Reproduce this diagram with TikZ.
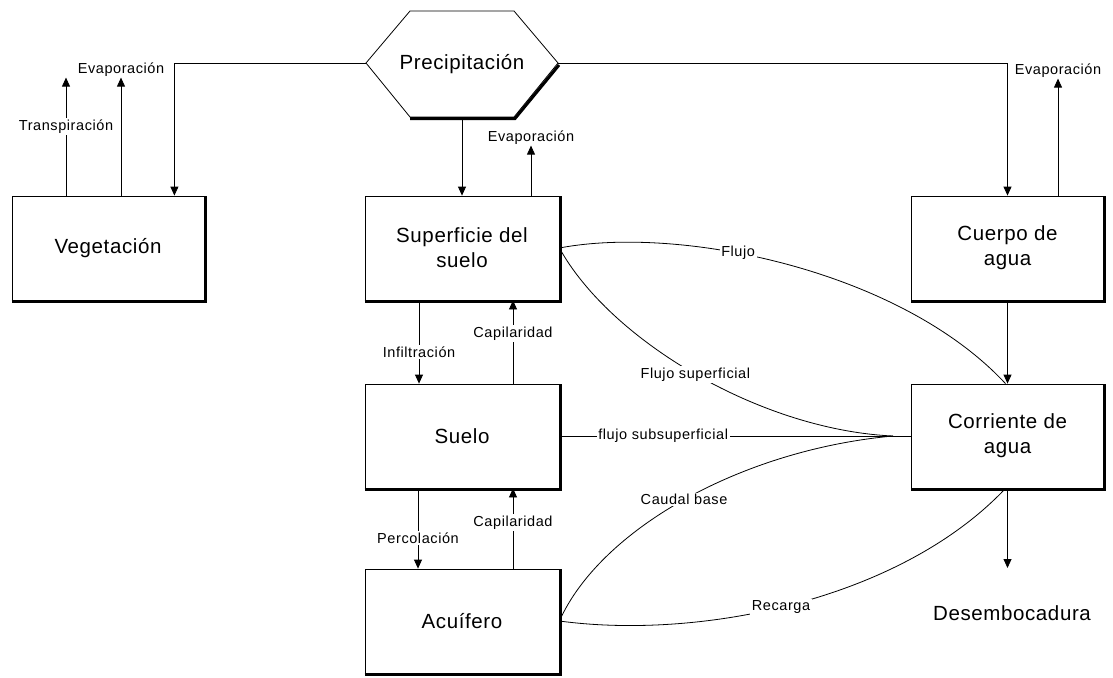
\documentclass[tikz,border=0pt]{standalone}
\usepackage{fontspec}
\setmainfont{Liberation Sans}
\usetikzlibrary{arrows.meta}
\newcommand\bxfont{\fontsize{20.5}{25}\selectfont\addfontfeatures{LetterSpace=3}}
\newcommand\lbfont{\fontsize{14.5}{17}\selectfont\addfontfeatures{LetterSpace=4}}
\begin{document}
\begin{tikzpicture}[x=1pt,y=-1pt,
  box/.style={draw, line width=0.8pt, minimum width=194pt, minimum height=104pt, align=center, font=\bxfont, inner sep=0pt},
  lbl/.style={font=\lbfont, fill=white, inner sep=1.5pt},
  toplbl/.style={font=\lbfont, anchor=south, inner sep=1pt},
  ln/.style={line width=0.8pt},
  arr/.style={ln, -{Triangle[length=9pt,width=8pt]}},
  shadowline/.style={line width=3pt},
]
\useasboundingbox (0,0) rectangle (1113,677);

% boxes
\node[box, minimum width=192pt] (veg) at (108,248) {Vegetación};
\node[box] (sup) at (462,248) {Superficie del\\suelo};
\node[box, minimum width=192pt] (cuerpo) at (1007.5,248) {Cuerpo de\\agua};
\node[box] (suelo) at (462,436) {Suelo};
\node[box, minimum width=192pt] (corr) at (1007.5,436) {Corriente de\\agua};
\node[box] (acu) at (462,621) {Acuífero};
\node[font=\bxfont, inner sep=0pt] (desemb) at (1012,613) {Desembocadura};

\foreach \b in {veg,sup,cuerpo,suelo,corr,acu}{
  \draw[shadowline] ([yshift=-1pt]\b.south west) -- ([xshift=1pt,yshift=-1pt]\b.south east) -- ([xshift=1pt]\b.north east);
}

% hexagon
\coordinate (hL) at (366,63);
\coordinate (hR) at (558,63);
\coordinate (hB) at (462,117);
\draw[ln] (hL) -- (410,11) -- (514,11) -- (hR) -- (514,117) -- (410,117) -- cycle;
\draw[shadowline] (410,118.5) -- (515,118.5) -- (559,65);
\node[font=\bxfont, inner sep=0pt] (prec) at (462,64) {Precipitación};

% precipitation connectors
\draw[arr] (hL) -| ([xshift=-30pt]veg.north east);
\draw[arr] (hR) -| (cuerpo.north);
\draw[arr] (hB) -- (sup.north);

% evaporation / transpiration
\draw[arr] ([xshift=-42pt]veg.north) -- ++(0,-118) node[lbl, pos=0.585] (ltrans) {Transpiración};
\draw[arr] ([xshift=13pt]veg.north) -- ++(0,-118) node[toplbl] (levv) {Evaporación};
\draw[arr] ([xshift=69pt]sup.north) -- ++(0,-50) node[toplbl] (levs) {Evaporación};
\draw[arr] ([xshift=50.5pt]cuerpo.north) -- ++(0,-117) node[toplbl] (levc) {Evaporación};

% vertical exchanges
\draw[arr] ([xshift=-43pt]sup.south) -- ([xshift=-43pt]suelo.north) node[lbl, pos=0.62] (linf) {Infiltración};
\draw[arr] ([xshift=51pt]suelo.north) -- ([xshift=51pt]sup.south) node[lbl, pos=0.6] (lcap1) {Capilaridad};
\draw[arr] ([xshift=-44pt]suelo.south) -- ([xshift=-44pt]acu.north) node[lbl, pos=0.62] (lperc) {Percolación};
\draw[arr] ([xshift=51pt]acu.north) -- ([xshift=51pt]suelo.south) node[lbl, pos=0.575] (lcap2) {Capilaridad};

\draw[arr] (cuerpo.south) -- (corr.north);
\coordinate (dtip) at (1007.5,568);
\draw[arr] (corr.south) -- (dtip);

% flows
\coordinate (conv) at (893,436);
\draw[ln] (sup.east) .. controls (680,225) and (900,270) .. ([xshift=-2pt]corr.north) node[lbl, pos=0.4] (lflujo) {Flujo};
\draw[ln] (sup.east) .. controls (610,340) and (760,430) .. (conv) node[lbl, pos=0.5] (lfsup) {Flujo superficial};
\draw[ln] (suelo.east) -- (corr.west) node[lbl, pos=0.295] (lfsub) {flujo subsuperficial};
\draw[ln] (acu.east) .. controls (600,530) and (740,450) .. (conv) node[lbl, pos=0.5] (lcaud) {Caudal base};
\draw[ln] (acu.east) .. controls (700,640) and (900,600) .. ([xshift=-2pt]corr.south) node[lbl, pos=0.47] (lrec) {Recarga};
\end{tikzpicture}
\end{document}
